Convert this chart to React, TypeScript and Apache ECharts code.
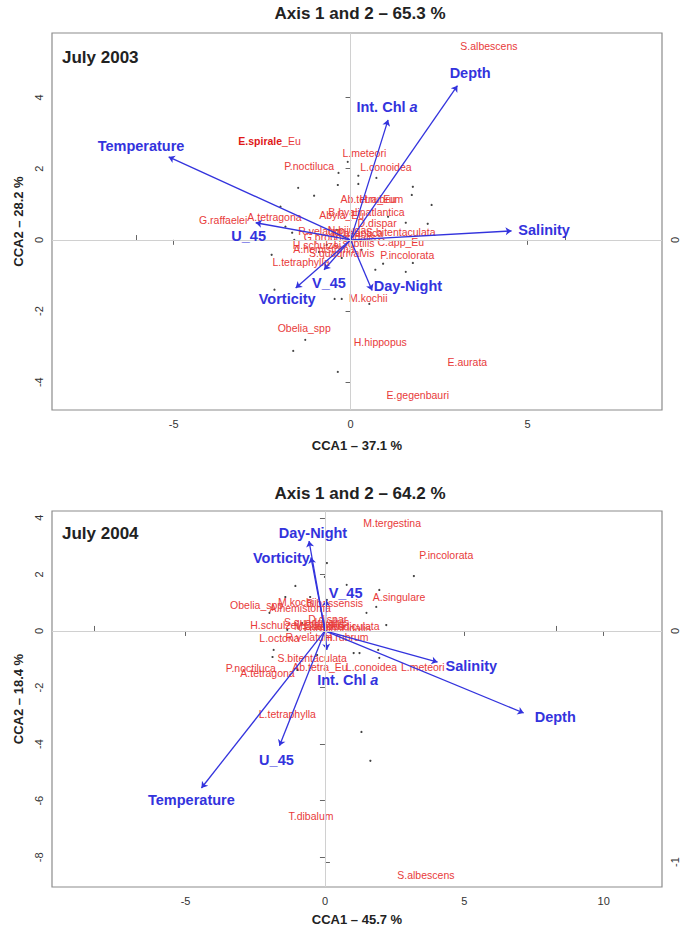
import React, { useEffect, useRef } from "react";
import * as echarts from "echarts";

// ---------- July 2003 ----------
const env03Names = ["Temperature", "Depth", "Int. Chl a", "Salinity", "U_45", "Vorticity", "V_45", "Day-Night"];
const env03X = [-5.14, 3.02, 1.06, 4.55, -2.68, -1.55, -0.75, 0.61];
const env03Y = [2.33, 4.33, 3.37, 0.25, 0.48, -1.35, -0.84, -1.42];
const env03LabelX = [-5.92, 3.38, 1.03, 5.47, -2.88, -1.79, -0.61, 1.62];
const env03LabelY = [2.64, 4.69, 3.74, 0.28, 0.11, -1.66, -1.21, -1.29];

const sp03Names = [
  "S.albescens", "E.spirale_Eu", "L.meteori", "P.noctiluca", "L.conoidea", "Ab.tetra_Eu", "H.rubrum",
  "B.hyalinatlantica", "Abyla_Eu", "D.dispar", "G.raffaelei", "A.tetragona", "R.velatum", "N.bijuga",
  "M.atlantica", "G.proboscidalis", "L.subtilis", "H.schulzei", "A.hemistoma", "S.quadrivalvis",
  "S.bitentaculata", "C.app_Eu", "P.incolorata", "L.tetraphylla", "M.kochii", "Obelia_spp",
  "H.hippopus", "E.aurata", "E.gegenbauri",
];
const sp03X = [
  3.91, -2.29, 0.39, -1.17, 1.0, 0.5, 0.87,
  0.45, -0.25, 0.75, -3.6, -2.15, -0.81, -0.1,
  0.2, -0.3, 0.1, -0.95, -0.75, -0.25,
  1.42, 1.42, 1.6, -1.4, 0.5, -1.31,
  0.84, 3.3, 1.9,
];
const sp03Y = [
  5.45, 2.78, 2.44, 2.08, 2.05, 1.15, 1.15,
  0.79, 0.7, 0.48, 0.56, 0.65, 0.25, 0.28,
  0.2, 0.08, -0.1, -0.14, -0.25, -0.37,
  0.22, -0.06, -0.42, -0.62, -1.63, -2.47,
  -2.87, -3.43, -4.35,
];

const site03X = [
  -0.08, -0.34, 0.22, 0.73, -0.36, 0.22, -1.48, 1.76, -1.03, 1.73, 2.29, -1.98, 1.06, 1.56, 2.18,
  -1.84, -1.65, -1.59, -2.23, 1.76, 0.7, 0.92, 1.56, -2.15, -0.45, -0.25, 0.53, -1.28, -1.62, -0.36,
  -0.67, -0.39, 0.31, -0.25, -0.89,
];
const site03Y = [
  2.19, 1.88, 1.8, 1.74, 1.54, 1.57, 1.46, 1.49, 1.24, 1.26, 0.98, 0.93, 0.65, 0.48, 0.45,
  0.37, 0.2, 0.0, -0.42, -0.65, -0.84, -0.67, -0.9, -1.4, -1.66, -1.66, -1.8, -2.81, -3.12, -3.71,
  -0.14, 0.28, -0.28, -0.51, -0.34,
];

// ---------- July 2004 ----------
const env04Names = ["Day-Night", "Vorticity", "V_45", "Salinity", "Depth", "Int. Chl a", "Temperature", "U_45"];
const env04X = [-0.57, -0.5, 0.05, 4.04, 7.13, 0.07, -4.43, -1.63];
const env04Y = [3.18, 2.6, 1.1, -1.1, -2.9, -0.67, -5.55, -4.06];
const env04LabelX = [-0.43, -1.56, 0.74, 5.25, 8.26, 0.82, -4.79, -1.74];
const env04LabelY = [3.46, 2.58, 1.34, -1.24, -3.04, -1.73, -5.97, -4.56];

const sp04Names = [
  "M.tergestina", "P.incolorata", "A.singulare", "Obelia_spp", "M.kochii", "A.hemistoma", "B.bassensis",
  "H.schulzei", "L.subtilis", "M.atlantica", "G.proboscidalis", "C.appendiculata", "S.quadrivalvis",
  "D.dispar", "L.octona", "R.velatum", "H.rubrum", "S.bitentaculata", "P.noctiluca", "A.tetragona",
  "Ab.tetra_Eu", "L.conoidea", "L.meteori", "L.tetraphylla", "T.dibalum", "S.albescens",
];
const sp04X = [
  2.41, 4.35, 2.66, -2.45, -0.99, -0.89, 0.35,
  -1.81, 0.0, -0.2, 0.35, 0.6, -0.3,
  0.1, -1.63, -0.57, 0.78, -0.46, -2.66, -2.06,
  -0.18, 1.67, 3.51, -1.35, -0.5, 3.62,
];
const sp04Y = [
  3.82, 2.69, 1.2, 0.92, 1.02, 0.81, 1.0,
  0.21, 0.25, 0.18, 0.1, 0.18, 0.32,
  0.42, -0.25, -0.21, -0.21, -0.95, -1.31, -1.48,
  -1.27, -1.27, -1.27, -2.93, -6.54, -8.62,
];

const site04X = [
  3.19, 0.07, 0.0, 0.78, 1.95, 1.84, 1.49, -1.42, -0.53, -1.99, 1.03, 1.24, 1.91, -1.88, -1.84,
  -0.99, 1.31, 1.63, 0.07, -0.82, 2.2, -1.35, -0.28, 1.95, -1.06,
];
const site04Y = [
  1.94, 2.4, 1.91, 1.63, 1.45, 0.85, 0.64, 1.2, 1.2, 0.64, -0.78, -0.78, -0.67, -0.92, -0.67,
  -1.38, -3.57, -4.59, 1.1, 0.28, 0.21, 0.04, -0.85, -0.95, 1.59,
];

const xTicks03 = [-5, 0, 5];
const yTicks03 = [-4, -2, 0, 2, 4];
const xTicks04 = [-5, 0, 5, 10];
const yTicks04 = [-8, -6, -4, -2, 0, 2, 4];
const topTicks = [-1, 0, 1];
const rightTicks03 = [0];
const rightTicks04 = [-1, 0];

const BLUE = "#3333dd";
const RED = "#e83a3a";
const FONT = "Liberation Sans, Arial, sans-serif";

function buildAxes(gi: number, cfg: any) {
  const tick = { show: true, length: 5, lineStyle: { color: "#666", width: 1 } };
  const lab = { color: "#333", fontSize: 11, fontFamily: FONT };
  const xs = [
    {
      type: "value", gridIndex: gi, position: "bottom", min: cfg.xMin, max: cfg.xMax,
      axisLine: { show: false }, splitLine: { show: false },
      axisTick: { ...tick, customValues: cfg.xTicks },
      axisLabel: { ...lab, customValues: cfg.xTicks, margin: 8 },
      name: cfg.xName, nameLocation: "middle", nameGap: cfg.xGap,
      nameTextStyle: { fontWeight: "bold", fontSize: 13, color: "#222", fontFamily: FONT },
    },
    {
      type: "value", gridIndex: gi, position: "top", min: cfg.tMin, max: cfg.tMax,
      axisLine: { show: false }, splitLine: { show: false },
      axisTick: { ...tick, customValues: topTicks },
      axisLabel: { show: false, customValues: topTicks },
    },
  ];
  const ys = [
    {
      type: "value", gridIndex: gi, position: "left", min: cfg.yMin, max: cfg.yMax,
      axisLine: { show: false }, splitLine: { show: false },
      axisTick: { ...tick, customValues: cfg.yTicks },
      axisLabel: { ...lab, customValues: cfg.yTicks, rotate: 90, margin: 8 },
      name: cfg.yName, nameLocation: "middle", nameGap: 26,
      nameTextStyle: { fontWeight: "bold", fontSize: 13, color: "#222", fontFamily: FONT },
    },
    {
      type: "value", gridIndex: gi, position: "right", min: cfg.rMin, max: cfg.rMax,
      axisLine: { show: false }, splitLine: { show: false },
      axisTick: { ...tick, customValues: cfg.rTicks },
      axisLabel: { ...lab, customValues: cfg.rTicks, rotate: 90, margin: 7 },
    },
  ];
  return { xs, ys };
}

function buildSeries(gi: number, d: any) {
  const ax = { xAxisIndex: gi * 2, yAxisIndex: gi * 2 };
  return [
    {
      type: "scatter", ...ax, symbol: "circle", symbolSize: 2.2,
      itemStyle: { color: "#444", opacity: 1 }, silent: true, z: 2,
      data: d.siteX.map((x: number, i: number) => [x, d.siteY[i]]),
      markLine: {
        silent: true, symbol: "none", label: { show: false },
        lineStyle: { color: "#d0d0d0", type: "solid", width: 1 },
        data: [{ xAxis: 0 }, { yAxis: 0 }],
      },
    },
    {
      type: "scatter", ...ax, symbolSize: 1, silent: true, z: 3,
      itemStyle: { color: "rgba(0,0,0,0)", opacity: 1 },
      data: d.spNames.map((n: string, i: number) => ({ name: n, value: [d.spX[i], d.spY[i]] })),
      label: {
        show: true, position: "inside", color: RED, fontSize: 10.5, fontFamily: FONT, opacity: 1,
        textBorderWidth: 0, textBorderColor: "transparent",
        formatter: (p: any) => (p.name === "E.spirale_Eu" ? "{b|E.spirale}_Eu" : p.name),
        rich: { b: { color: "#e01818", fontWeight: "bold", fontSize: 10.5, fontFamily: FONT } },
      },
    },
    {
      type: "lines", coordinateSystem: "cartesian2d", ...ax, silent: true, z: 4,
      symbol: ["none", "arrow"], symbolSize: [0, 6],
      lineStyle: { color: BLUE, width: 1.3, opacity: 1 },
      data: d.envX.map((x: number, i: number) => ({ coords: [[0, 0], [x, d.envY[i]]] })),
    },
    {
      type: "scatter", ...ax, symbolSize: 1, silent: true, z: 5,
      itemStyle: { color: "rgba(0,0,0,0)", opacity: 1 },
      data: d.envNames.map((n: string, i: number) => ({ name: n, value: [d.envLX[i], d.envLY[i]] })),
      label: {
        show: true, position: "inside", color: BLUE, fontSize: 14.5, fontWeight: "bold", fontFamily: FONT,
        opacity: 1, textBorderWidth: 0, textBorderColor: "transparent",
        formatter: (p: any) => (p.name === "Int. Chl a" ? "Int. Chl {i|a}" : p.name),
        rich: { i: { color: BLUE, fontSize: 14.5, fontWeight: "bold", fontStyle: "italic", fontFamily: FONT } },
      },
    },
  ];
}

export default function App() {
  const ref = useRef<HTMLDivElement>(null);
  useEffect(() => {
    if (!ref.current) return;
    const chart = echarts.init(ref.current, null, { renderer: "svg" });
    const a0 = buildAxes(0, {
      xMin: -8.436, xMax: 8.8, yMin: -4.78, yMax: 5.81, xTicks: xTicks03, yTicks: yTicks03,
      tMin: -1.392, tMax: 1.452, rMin: -0.783, rMax: 0.954, rTicks: rightTicks03,
      xName: "CCA1 \u2013 37.1 %", yName: "CCA2 \u2013 28.2 %", xGap: 29,
    });
    const a1 = buildAxes(1, {
      xMin: -9.79, xMax: 12.09, yMin: -9.05, yMax: 4.24, xTicks: xTicks04, yTicks: yTicks04,
      tMin: -1.182, tMax: 1.46, rMin: -1.108, rMax: 0.519, rTicks: rightTicks04,
      xName: "CCA1 \u2013 45.7 %", yName: "CCA2 \u2013 18.4 %", xGap: 26,
    });
    const gridStyle = { show: true, borderColor: "#8c8c8c", borderWidth: 1.2, backgroundColor: "#fff" };
    chart.setOption({
      animation: false,
      backgroundColor: "#fff",
      textStyle: { fontFamily: FONT },
      grid: [
        { ...gridStyle, left: 52, top: 33, width: 617, height: 377 },
        { ...gridStyle, left: 52, top: 511, width: 617, height: 376 },
      ],
      xAxis: [...a0.xs, ...a1.xs],
      yAxis: [...a0.ys, ...a1.ys],
      series: [
        ...buildSeries(0, {
          siteX: site03X, siteY: site03Y, spNames: sp03Names, spX: sp03X, spY: sp03Y,
          envNames: env03Names, envX: env03X, envY: env03Y, envLX: env03LabelX, envLY: env03LabelY,
        }),
        ...buildSeries(1, {
          siteX: site04X, siteY: site04Y, spNames: sp04Names, spX: sp04X, spY: sp04Y,
          envNames: env04Names, envX: env04X, envY: env04Y, envLX: env04LabelX, envLY: env04LabelY,
        }),
      ],
      graphic: [
        { type: "text", x: 360, y: 13, style: { text: "Axis 1 and 2 \u2013 65.3 %", font: `bold 17px ${FONT}`, fill: "#222", textAlign: "center", textVerticalAlign: "middle" } },
        { type: "text", x: 62, y: 57, style: { text: "July 2003", font: `bold 17px ${FONT}`, fill: "#222", textAlign: "left", textVerticalAlign: "middle" } },
        { type: "text", x: 360, y: 493, style: { text: "Axis 1 and 2 \u2013 64.2 %", font: `bold 17px ${FONT}`, fill: "#222", textAlign: "center", textVerticalAlign: "middle" } },
        { type: "text", x: 62, y: 533, style: { text: "July 2004", font: `bold 17px ${FONT}`, fill: "#222", textAlign: "left", textVerticalAlign: "middle" } },
      ],
    });
    return () => chart.dispose();
  }, []);
  return <div ref={ref} style={{ position: "absolute", left: 0, top: 0, width: 680, height: 930 }} />;
}
